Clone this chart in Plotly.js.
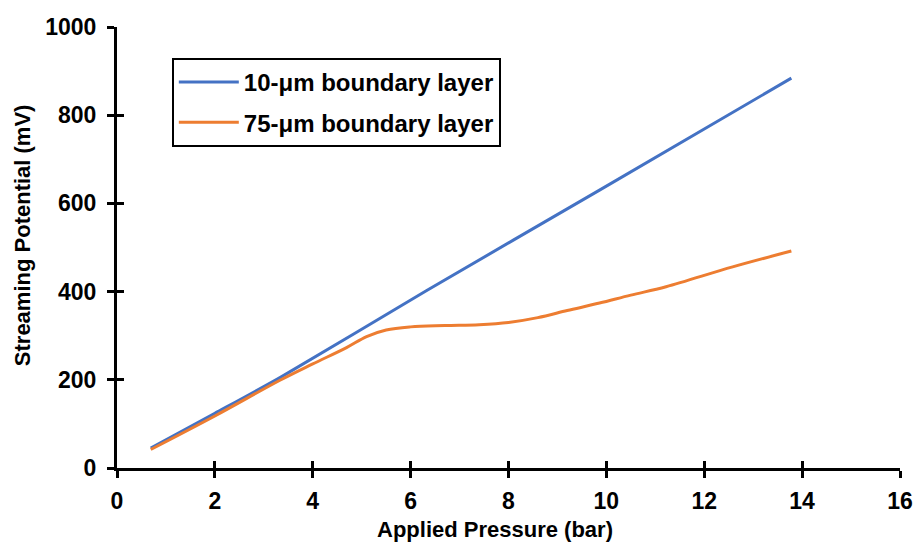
<!DOCTYPE html>
<html>
<head>
<meta charset="utf-8">
<script src="https://cdn.plot.ly/plotly-3.0.1.min.js"></script>
<style>body{margin:0;padding:0;background:#fff;}#chart{width:915px;height:544px;}</style>
</head>
<body>
<div id="chart"></div>
<script>
const seriesNames = ["10-μm boundary layer", "75-μm boundary layer"];
const pressure10 = [0.69, 2, 3.33, 6.32, 9.86, 13.78];
const potential10 = [45, 124, 205, 402, 630, 884];
const pressure75 = [0.69, 2, 3.33, 4.0, 4.69, 5.1, 5.5, 6.0, 6.7, 7.4, 8.0, 8.6, 9.2, 9.86, 10.5, 11.22, 12.58, 13.78];
const potential75 = [42, 118, 199, 236, 273, 298, 313, 320, 323, 325, 330, 341, 357, 374, 392, 411, 456, 492];
const xTicks = [0, 2, 4, 6, 8, 10, 12, 14, 16];
const yTicks = [0, 200, 400, 600, 800, 1000];
const xTitle = "Applied Pressure (bar)";
const yTitle = "Streaming Potential (mV)";

const font = {family: "Liberation Sans, Arial, sans-serif", color: "#000"};
const traces = [
  {x: pressure10, y: potential10, name: seriesNames[0], legendgroup: "a", mode: "lines", line: {color: "#4472C4", width: 3, shape: "spline", smoothing: 0.6}},
  {x: pressure75, y: potential75, name: seriesNames[1], legendgroup: "b", mode: "lines", line: {color: "#ED7D31", width: 3, shape: "spline", smoothing: 1}},
  {x: [0], y: [0], xaxis: "x2", yaxis: "y2", mode: "markers", marker: {opacity: 0}, showlegend: false, hoverinfo: "skip"}
];
const axCommon = {showgrid: false, zeroline: false, showline: true, linecolor: "#000", linewidth: 3, tickcolor: "#000", tickwidth: 3, ticklen: 7};
const titleFont = {family: font.family, size: 22, color: "#000", weight: "bold"};
const layout = {
  width: 915, height: 544,
  margin: {l: 117, r: 15, t: 27, b: 76},
  paper_bgcolor: "#fff", plot_bgcolor: "#fff",
  font: font,
  showlegend: true,
  legend: {x: 0.07, y: 0.93, xanchor: "left", yanchor: "top", bordercolor: "#000", borderwidth: 2, bgcolor: "#fff",
    traceorder: "grouped", tracegroupgap: 6, itemwidth: 60,
    font: {family: font.family, size: 24, color: "#000", weight: "bold"}},
  xaxis: Object.assign({}, axCommon, {range: [0, 16], tickvals: xTicks, ticktext: xTicks.map(String), ticks: "outside",
    tickfont: {size: 23, weight: "bold"}, ticklabelstandoff: 3}),
  yaxis: Object.assign({}, axCommon, {range: [0, 1000], tickvals: yTicks, ticktext: yTicks.map(String), ticks: "outside",
    tickfont: {size: 23, weight: "bold"}, ticklabelstandoff: 6}),
  xaxis2: Object.assign({}, axCommon, {range: [0, 16], tickvals: xTicks, ticks: "inside", showticklabels: false, overlaying: "x", anchor: "y2"}),
  yaxis2: Object.assign({}, axCommon, {range: [0, 1000], tickvals: yTicks, ticks: "inside", showticklabels: false, overlaying: "y", anchor: "x2"}),
  annotations: [
    {text: xTitle, xref: "paper", yref: "paper", x: 0.483, y: -0.14, xanchor: "center", yanchor: "middle", showarrow: false, font: titleFont},
    {text: yTitle, xref: "paper", yref: "paper", x: -0.1213, y: 0.528, xanchor: "center", yanchor: "middle", textangle: -90, showarrow: false, font: titleFont}
  ]
};
Plotly.newPlot("chart", traces, layout, {displayModeBar: false, staticPlot: true});
</script>
</body>
</html>
